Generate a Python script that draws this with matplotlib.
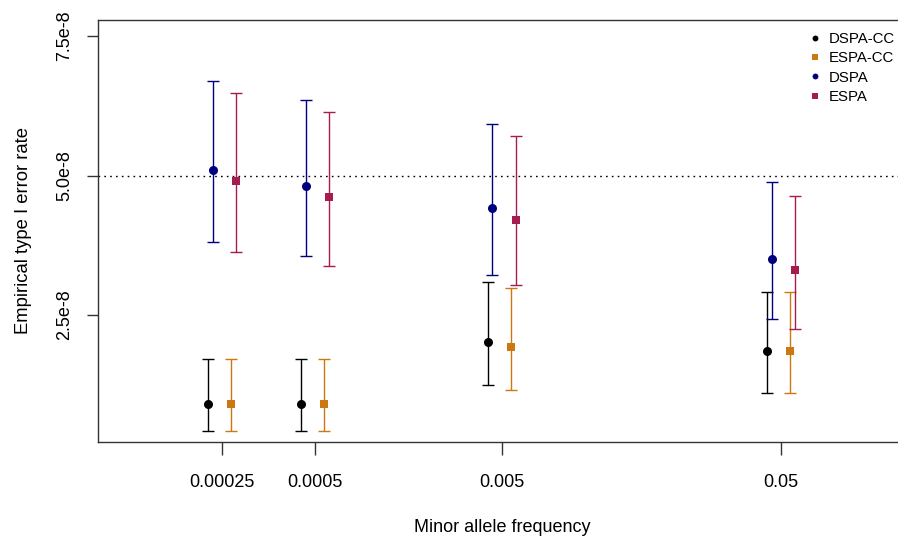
import matplotlib
matplotlib.use("Agg")
import matplotlib.pyplot as plt
import numpy as np

plt.rcParams['font.family'] = ['Liberation Sans', 'DejaVu Sans']

# Categories (minor allele frequency) and their axis positions
maf_labels = ["0.00025", "0.0005", "0.005", "0.05"]
maf_pos = [1, 2, 4, 7]

# Values in units of 1e-8
dspa_cc = [0.91, 0.91, 2.01, 1.86]
dspa_cc_lo = [0.43, 0.43, 1.24, 1.11]
dspa_cc_hi = [1.71, 1.71, 3.10, 2.92]

espa_cc = [0.91, 0.91, 1.92, 1.86]
espa_cc_lo = [0.43, 0.43, 1.16, 1.11]
espa_cc_hi = [1.71, 1.71, 2.98, 2.92]

dspa = [5.10, 4.81, 4.42, 3.50]
dspa_lo = [3.80, 3.55, 3.22, 2.43]
dspa_hi = [6.70, 6.36, 5.92, 4.88]

espa = [4.90, 4.61, 4.21, 3.30]
espa_lo = [3.63, 3.37, 3.04, 2.25]
espa_hi = [6.48, 6.14, 5.70, 4.64]

y_ticks = [2.5, 5.0, 7.5]
y_tick_labels = ["2.5e-8", "5.0e-8", "7.5e-8"]
alpha_level = 5.0

series = [
    ("DSPA-CC", dspa_cc, dspa_cc_lo, dspa_cc_hi, -0.15, "#000000", "o"),
    ("ESPA-CC", espa_cc, espa_cc_lo, espa_cc_hi, 0.10, "#CC7711", "s"),
    ("DSPA", dspa, dspa_lo, dspa_hi, -0.10, "#00007F", "o"),
    ("ESPA", espa, espa_lo, espa_hi, 0.15, "#A51C4E", "s"),
]

fig = plt.figure(figsize=(8.98, 5.36), dpi=100)
ax = fig.add_axes([98/898, 1-442/536, 1.01 - 98/898, (442-20)/536])

handles = []
for name, v, lo, hi, off, col, mk in series:
    v = np.array(v); lo = np.array(lo); hi = np.array(hi)
    x = np.array(maf_pos) + off
    ax.errorbar(x, v, yerr=[v - lo, hi - v], fmt='none', ecolor=col,
                elinewidth=1.0, capsize=4.3, capthick=1.0, zorder=2)
    ms = 6.5 if mk == "o" else 5.8
    h, = ax.plot(x, v, linestyle='none', marker=mk, color=col, markersize=ms,
                 markeredgewidth=0, label=name, zorder=3)
    handles.append(h)

ax.axhline(alpha_level, color='black', linestyle=(0, (1.2, 3)), linewidth=1.0, zorder=1)

ax.set_xlim(-0.33, 8.35)
ax.set_ylim(0.224, 7.787)
ax.set_xticks(maf_pos)
ax.set_xticklabels(maf_labels, fontsize=13)
ax.set_yticks(y_ticks)
ax.set_yticklabels(y_tick_labels, fontsize=13, rotation=90, va='center')
ax.tick_params(axis='x', length=9, width=1, pad=14, color='#333333')
ax.tick_params(axis='y', length=8, width=1, pad=10, color='#333333')
for s in ['left', 'bottom', 'top']:
    ax.spines[s].set_linewidth(1.0)
    ax.spines[s].set_color('#333333')
ax.spines['right'].set_visible(False)

ax.set_xlabel("Minor allele frequency", fontsize=13, labelpad=20)
ax.set_ylabel("Empirical type I error rate", fontsize=13.3, labelpad=17)

leg = ax.legend(handles=handles, loc='upper left', bbox_to_anchor=(809/898, 1-32/536),
                bbox_transform=fig.transFigure, frameon=False, fontsize=10.8,
                handletextpad=0.5, labelspacing=0.35, handlelength=0.8,
                borderaxespad=0, borderpad=0, markerscale=0.65)

fig.savefig("out.png", dpi=100)
